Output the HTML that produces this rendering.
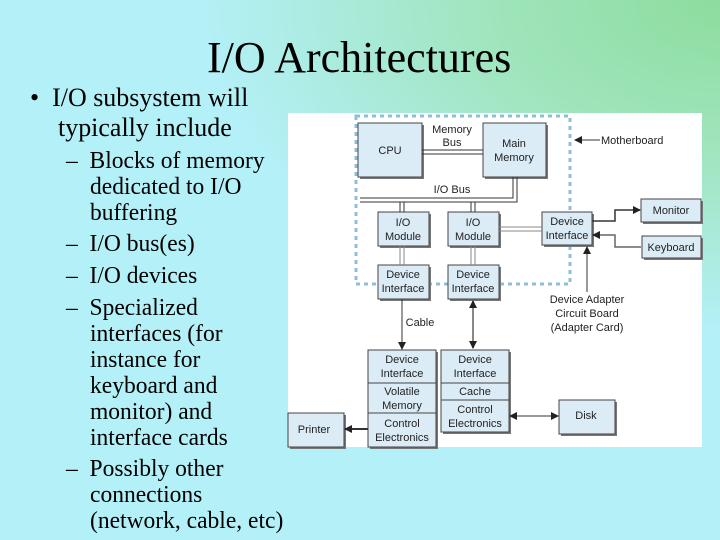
<!DOCTYPE html>
<html><head><meta charset="utf-8"><style>
html,body{margin:0;padding:0}
body{width:720px;height:540px;position:relative;overflow:hidden;
background:radial-gradient(ellipse 520px 330px at 720px 0px,#8edc9e 0%,#9fe5bd 45%,rgba(180,240,248,0) 100%),#b4f0f8;
font-family:"Liberation Serif",serif;color:#000}
h1{position:absolute;left:0;top:32px;margin:0;font-weight:normal;font-size:44px;font-family:"Liberation Serif",serif;padding-left:207px;white-space:nowrap}
.l{position:absolute;font-family:"Liberation Serif",serif;font-size:26.5px;line-height:26px;white-space:nowrap;transform:scaleX(0.98);transform-origin:0 0}
.s{font-size:24px}
svg text{font-family:"Liberation Sans",sans-serif;font-size:11px;fill:#222;text-anchor:middle}
</style></head><body>
<h1>I/O Architectures</h1>
<div class="l" style="left:30px;top:84px">•&nbsp;&nbsp;I/O subsystem will</div>
<div class="l" style="left:58px;top:114px">typically include</div>
<div class="l s" style="left:66px;top:148px">–&nbsp;&nbsp;Blocks of memory</div>
<div class="l s" style="left:90px;top:174px">dedicated to I/O</div>
<div class="l s" style="left:90px;top:200px">buffering</div>
<div class="l s" style="left:66px;top:231px">–&nbsp;&nbsp;I/O bus(es)</div>
<div class="l s" style="left:66px;top:263px">–&nbsp;&nbsp;I/O devices</div>
<div class="l s" style="left:66px;top:295px">–&nbsp;&nbsp;Specialized</div>
<div class="l s" style="left:90px;top:321px">interfaces (for</div>
<div class="l s" style="left:90px;top:347px">instance for</div>
<div class="l s" style="left:90px;top:373px">keyboard and</div>
<div class="l s" style="left:90px;top:399px">monitor) and</div>
<div class="l s" style="left:90px;top:425px">interface cards</div>
<div class="l s" style="left:66px;top:456px">–&nbsp;&nbsp;Possibly other</div>
<div class="l s" style="left:90px;top:482px">connections</div>
<div class="l s" style="left:90px;top:508px">(network, cable, etc)</div>

<svg style="position:absolute;left:0;top:0" width="720" height="540">
<defs>
<marker id="a" markerWidth="8" markerHeight="8" refX="7" refY="4" orient="auto" markerUnits="userSpaceOnUse"><path d="M0,0 L8,4 L0,8 z" fill="#222"/></marker>
<marker id="b" markerWidth="8" markerHeight="8" refX="1" refY="4" orient="auto" markerUnits="userSpaceOnUse"><path d="M8,0 L0,4 L8,8 z" fill="#222"/></marker>
</defs>
<rect x="288" y="113" width="414" height="334" fill="#fff"/>
<rect x="356" y="116" width="214" height="168" fill="none" stroke="#8fbfd6" stroke-width="3" stroke-dasharray="4,4"/>
<g fill="#dcecf6" stroke="#444" stroke-width="1">
<g stroke="none" fill="#777">
<rect x="360" y="125" width="64" height="54"/><rect x="485" y="125" width="63" height="54"/>
<rect x="380" y="214" width="51" height="34"/><rect x="450" y="214" width="51" height="34"/>
<rect x="380" y="267" width="51" height="34"/><rect x="450" y="267" width="51" height="34"/>
<rect x="544" y="214" width="50" height="33"/><rect x="643" y="201" width="60" height="23"/><rect x="644" y="238" width="59" height="22"/>
<rect x="370" y="352" width="68" height="97"/><rect x="443" y="352" width="68" height="82"/>
<rect x="290" y="415" width="56" height="34"/><rect x="561" y="402" width="56" height="34"/>
</g>
<rect x="358" y="123" width="64" height="54"/><rect x="483" y="123" width="63" height="54"/>
<rect x="378" y="212" width="51" height="34"/><rect x="448" y="212" width="51" height="34"/>
<rect x="378" y="265" width="51" height="34"/><rect x="448" y="265" width="51" height="34"/>
<rect x="542" y="212" width="50" height="33"/><rect x="641" y="199" width="60" height="23"/><rect x="642" y="236" width="59" height="22"/>
<rect x="368" y="350" width="68" height="33"/><rect x="368" y="383" width="68" height="30"/><rect x="368" y="413" width="68" height="34"/>
<rect x="441" y="350" width="68" height="33"/><rect x="441" y="383" width="68" height="17"/><rect x="441" y="400" width="68" height="32"/>
<rect x="288" y="413" width="56" height="34"/><rect x="559" y="400" width="56" height="34"/>
</g>
<g stroke="#333" stroke-width="1" fill="none">
<path d="M422,150 H483 M422,154 H483"/>
<path d="M360,198 H513 V177 M360,202 H517 V177"/>
<path d="M400,202 V212 M404,202 V212 M471,202 V212 M475,202 V212"/>
<path d="M400,246 V265 M404,246 V265 M471,246 V265 M475,246 V265" stroke="#888"/>
<path d="M499,227 H542 M499,231 H542" stroke="#888"/>
<path d="M592,221 H615 V210 H640" stroke-width="1.5" marker-end="url(#a)"/>
<path d="M641,247 H615 V235 H593" stroke-width="1.5" stroke="#666" marker-end="url(#a)"/>
<path d="M587,292 V247" marker-end="url(#a)"/>
<path d="M600,140 H575" marker-end="url(#a)"/>
<path d="M402,299 V349" marker-end="url(#a)"/>
<path d="M473,301 V348" stroke="#888" stroke-width="2" marker-start="url(#b)" marker-end="url(#a)"/>
<path d="M368,429 H345" stroke-width="2" marker-end="url(#a)"/>
<path d="M510,416 H558" marker-start="url(#b)" marker-end="url(#a)"/>
</g>
<text x="390" y="154">CPU</text>
<text x="452" y="133">Memory</text><text x="452" y="146">Bus</text>
<text x="514" y="147">Main</text><text x="514" y="161">Memory</text>
<text x="452" y="193">I/O Bus</text>
<text x="403" y="226">I/O</text><text x="403" y="240">Module</text>
<text x="473" y="226">I/O</text><text x="473" y="240">Module</text>
<text x="403" y="278">Device</text><text x="403" y="292">Interface</text>
<text x="473" y="278">Device</text><text x="473" y="292">Interface</text>
<text x="567" y="225">Device</text><text x="567" y="239">Interface</text>
<text x="671" y="214">Monitor</text><text x="671" y="251">Keyboard</text>
<text x="601" y="144" style="text-anchor:start">Motherboard</text>
<text x="587" y="303">Device Adapter</text><text x="587" y="317">Circuit Board</text><text x="587" y="331">(Adapter Card)</text>
<text x="420" y="326">Cable</text>
<text x="402" y="363">Device</text><text x="402" y="377">Interface</text>
<text x="402" y="395">Volatile</text><text x="402" y="409">Memory</text>
<text x="402" y="427">Control</text><text x="402" y="441">Electronics</text>
<text x="475" y="363">Device</text><text x="475" y="377">Interface</text>
<text x="475" y="395">Cache</text>
<text x="475" y="413">Control</text><text x="475" y="427">Electronics</text>
<text x="314" y="433">Printer</text><text x="586" y="419">Disk</text>
</svg>
</body></html>
